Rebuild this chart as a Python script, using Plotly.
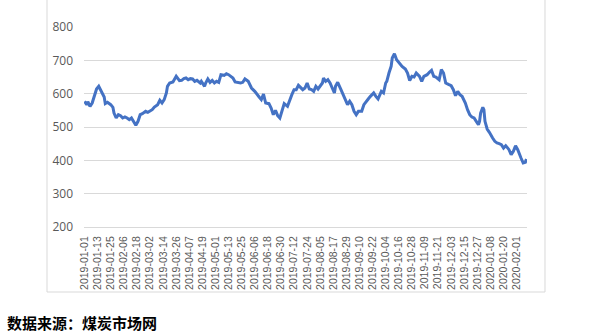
import plotly.graph_objects as go

dates = [
    "2019-01-01","2019-01-03","2019-01-04","2019-01-06","2019-01-08","2019-01-10","2019-01-12","2019-01-14",
    "2019-01-16","2019-01-19","2019-01-20","2019-01-22","2019-01-25","2019-01-27","2019-01-28","2019-01-30",
    "2019-02-01","2019-02-03","2019-02-05","2019-02-07","2019-02-09","2019-02-11","2019-02-13","2019-02-15",
    "2019-02-17","2019-02-19","2019-02-21","2019-02-23","2019-02-26","2019-02-28","2019-03-02","2019-03-04",
    "2019-03-06","2019-03-09","2019-03-11","2019-03-13","2019-03-15","2019-03-17","2019-03-18","2019-03-20",
    "2019-03-23","2019-03-25","2019-03-26","2019-03-29","2019-03-31","2019-04-02","2019-04-04","2019-04-06",
    "2019-04-08","2019-04-10","2019-04-12","2019-04-14","2019-04-17","2019-04-18","2019-04-21","2019-04-22",
    "2019-04-24","2019-04-26","2019-04-28","2019-04-30","2019-05-02","2019-05-04","2019-05-06","2019-05-09",
    "2019-05-11","2019-05-13","2019-05-15","2019-05-17","2019-05-19","2019-05-22","2019-05-24","2019-05-26",
    "2019-05-28","2019-05-31","2019-06-01","2019-06-03","2019-06-06","2019-06-08","2019-06-10","2019-06-12",
    "2019-06-14","2019-06-16","2019-06-19","2019-06-21","2019-06-23","2019-06-25","2019-06-27","2019-06-29",
    "2019-07-01","2019-07-03","2019-07-06","2019-07-08","2019-07-10","2019-07-12","2019-07-14","2019-07-16",
    "2019-07-19","2019-07-20","2019-07-22","2019-07-24","2019-07-26","2019-07-28","2019-07-30","2019-08-01",
    "2019-08-03","2019-08-05","2019-08-07","2019-08-08","2019-08-10","2019-08-12","2019-08-14","2019-08-16",
    "2019-08-18","2019-08-19","2019-08-21","2019-08-24","2019-08-26","2019-08-28","2019-08-30","2019-09-01",
    "2019-09-03","2019-09-05","2019-09-07","2019-09-09","2019-09-12","2019-09-14","2019-09-16","2019-09-18",
    "2019-09-20","2019-09-23","2019-09-25","2019-09-27","2019-09-30","2019-10-02","2019-10-04","2019-10-05",
    "2019-10-07","2019-10-09","2019-10-10","2019-10-12","2019-10-14","2019-10-17","2019-10-19","2019-10-22",
    "2019-10-24","2019-10-26","2019-10-28","2019-10-30","2019-11-01","2019-11-04","2019-11-06","2019-11-08",
    "2019-11-11","2019-11-13","2019-11-15","2019-11-17","2019-11-19","2019-11-22","2019-11-24","2019-11-26",
    "2019-11-28","2019-12-01","2019-12-03","2019-12-05","2019-12-07","2019-12-09","2019-12-11","2019-12-13",
    "2019-12-16","2019-12-18","2019-12-20","2019-12-22","2019-12-24","2019-12-26","2019-12-28","2019-12-29",
    "2019-12-30","2020-01-01","2020-01-02","2020-01-03","2020-01-05","2020-01-07","2020-01-08","2020-01-10",
    "2020-01-12","2020-01-14","2020-01-16","2020-01-18","2020-01-20","2020-01-22","2020-01-25","2020-01-27",
    "2020-01-29","2020-01-31","2020-02-02","2020-02-03","2020-02-05","2020-02-07","2020-02-09","2020-02-10",
]

prices = [
    577, 567, 576, 562, 572, 597, 614, 622,
    607, 590, 570, 574, 567, 559, 542, 527,
    537, 534, 527, 530, 527, 522, 527, 514,
    505, 517, 537, 540, 547, 544, 549, 552,
    560, 567, 580, 572, 582, 602, 622, 632,
    635, 647, 652, 639, 640, 645, 647, 642,
    645, 644, 637, 640, 632, 637, 622, 632,
    644, 634, 640, 632, 637, 634, 657, 655,
    660, 657, 652, 647, 635, 632, 632, 634,
    644, 637, 629, 617, 607, 600, 590, 582,
    599, 572, 570, 557, 537, 550, 534, 527,
    552, 570, 562, 582, 597, 612, 612, 625,
    617, 612, 617, 632, 614, 612, 607, 622,
    614, 622, 632, 647, 637, 642, 632, 617,
    602, 622, 634, 612, 597, 582, 567, 577,
    567, 547, 537, 547, 547, 567, 577, 584,
    592, 602, 592, 584, 607, 602, 632, 637,
    662, 682, 707, 720, 702, 689, 682, 674,
    662, 639, 652, 650, 662, 652, 637, 652,
    657, 664, 670, 652, 650, 642, 672, 662,
    632, 627, 624, 612, 594, 607, 597, 592,
    572, 552, 537, 530, 527, 517, 507, 517,
    542, 559, 552, 517, 494, 484, 477, 467,
    457, 452, 450, 447, 437, 444, 432, 417,
    427, 444, 432, 422, 407, 392, 394, 404,
]

tick_labels = [
    "2019-01-01","2019-01-13","2019-01-25","2019-02-06","2019-02-18","2019-03-02","2019-03-14",
    "2019-03-26","2019-04-07","2019-04-19","2019-05-01","2019-05-13","2019-05-25","2019-06-06",
    "2019-06-18","2019-06-30","2019-07-12","2019-07-24","2019-08-05","2019-08-17","2019-08-29",
    "2019-09-10","2019-09-22","2019-10-04","2019-10-16","2019-10-28","2019-11-09","2019-11-21",
    "2019-12-03","2019-12-15","2019-12-27","2020-01-08","2020-01-20","2020-02-01",
]

y_ticks = [200, 300, 400, 500, 600, 700, 800]

source_text = "数据来源：煤炭市场网"

fig = go.Figure()
fig.add_trace(go.Scatter(
    x=dates, y=prices, mode="lines",
    line=dict(color="#4472c4", width=3),
    showlegend=False, hoverinfo="skip",
))

grid = "#d9d9d9"
fig.update_layout(
    width=600, height=336,
    margin=dict(l=84, r=73, t=27, b=109),
    paper_bgcolor="white", plot_bgcolor="white",
    xaxis=dict(
        type="date",
        range=["2018-12-31 12:00", "2020-02-10 12:00"],
        tickmode="array", tickvals=tick_labels, ticktext=tick_labels,
        tickangle=-90, showgrid=False, showline=True, linecolor=grid, linewidth=1,
        ticks="", ticklabelstandoff=4,
        tickfont=dict(family="Liberation Sans", size=10.5, color="#595959"),
        zeroline=False,
    ),
    yaxis=dict(
        range=[200, 800], tickvals=y_ticks,
        showgrid=True, gridcolor=grid, gridwidth=1, zeroline=False,
        ticks="", ticklabelstandoff=10,
        tickfont=dict(family="Open Sans", size=12, color="#595959"),
    ),
    shapes=[
        dict(type="line", xref="paper", yref="paper", x0=-0.0835, x1=-0.0835, y0=-0.325, y1=1.14,
             line=dict(color=grid, width=1)),
        dict(type="line", xref="paper", yref="paper", x0=1.0406, x1=1.0406, y0=-0.325, y1=1.14,
             line=dict(color=grid, width=1)),
        dict(type="line", xref="paper", yref="paper", x0=-0.0835, x1=1.0406, y0=-0.325, y1=-0.325,
             line=dict(color=grid, width=1)),
    ],
    annotations=[dict(
        text="<b>" + source_text + "</b>", xref="paper", yref="paper",
        x=-0.178, y=-0.475, xanchor="left", yanchor="middle", showarrow=False,
        font=dict(family="Noto Sans CJK SC", size=15, color="#000000"),
    )],
)

fig.write_html("out.html")
